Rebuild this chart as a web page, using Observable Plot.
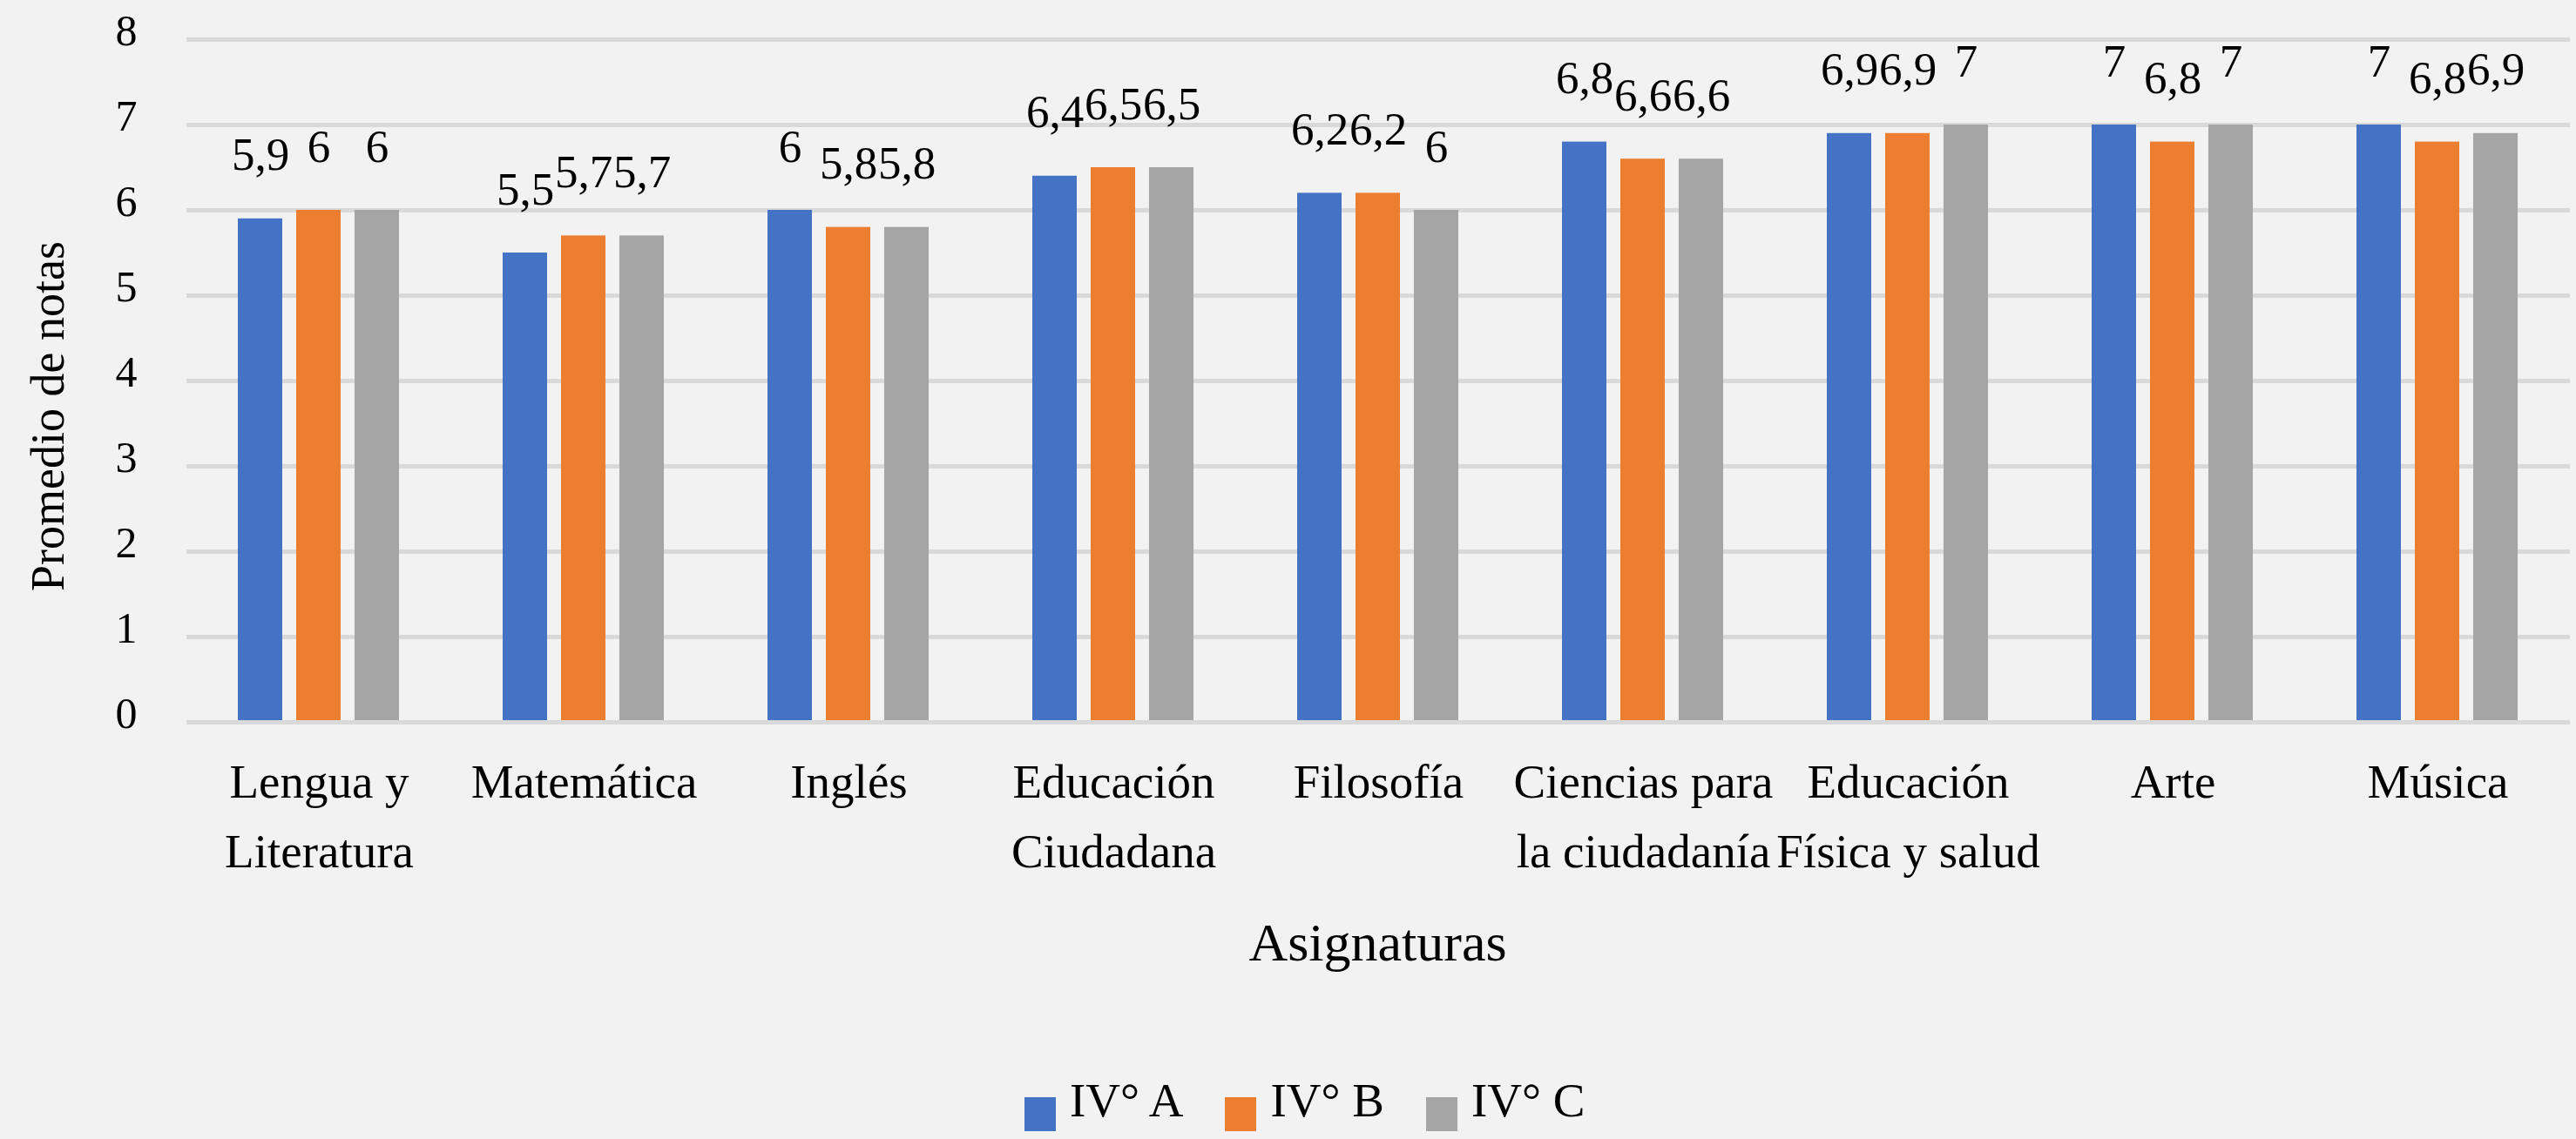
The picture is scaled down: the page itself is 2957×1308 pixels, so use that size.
<!DOCTYPE html>
<html><head><meta charset="utf-8">
<script src="https://cdn.jsdelivr.net/npm/d3@7"></script>
<script src="https://cdn.jsdelivr.net/npm/@observablehq/plot@0.6"></script>
<style>
html,body{margin:0;padding:0;background:#f2f2f2;}
#wrap{position:relative;width:2957px;height:1308px;background:#f2f2f2;font-family:"Liberation Serif",serif;overflow:hidden}
#wrap svg, #wrap svg text, #wrap svg tspan{font-family:"Liberation Serif",serif !important}
#legend{position:absolute;top:1236px;left:1176px;display:flex;align-items:baseline;font-size:55px;line-height:55px;color:#000;white-space:nowrap}
.item{display:flex;align-items:baseline;margin-right:48px}
.sw{display:inline-block;width:36px;height:39px;position:relative;top:17px;margin-right:16px}
</style></head><body><div id="wrap"></div>
<script>
const subjects = ["Lengua y Literatura","Matemática","Inglés","Educación Ciudadana","Filosofía","Ciencias para la ciudadanía","Educación Física y salud","Arte","Música"];
const subjectLabels = ["Lengua y\nLiteratura","Matemática","Inglés","Educación\nCiudadana","Filosofía","Ciencias para\nla ciudadanía","Educación\nFísica y salud","Arte","Música"];
const groups = ["IV° A","IV° B","IV° C"];
const colors = ["#4472C4","#ED7D31","#A5A5A5"];
const valuesA = [5.9,5.5,6,6.4,6.2,6.8,6.9,7,7];
const valuesB = [6,5.7,5.8,6.5,6.2,6.6,6.9,6.8,6.8];
const valuesC = [6,5.7,5.8,6.5,6,6.6,7,7,6.9];
const yTicks = [0,1,2,3,4,5,6,7,8];
const xTitle = "Asignaturas";
const yTitle = "Promedio de notas";

const series = [valuesA, valuesB, valuesC];
const rows = subjects.flatMap((s, i) => groups.map((g, j) => ({subject: s, group: g, value: series[j][i]})));
const fmt = v => String(v).replace(".", ",");
const serif = "Liberation Serif";

const chart = Plot.plot({
  width: 2957, height: 1150,
  marginLeft: 211, marginRight: 5, marginTop: 45, marginBottom: 321,
  style: {background: "#f2f2f2", fontFamily: serif, color: "#000", overflow: "visible"},
  fx: {domain: subjects, paddingInner: 0, paddingOuter: 0, label: null},
  x: {domain: groups, paddingInner: 0.235, paddingOuter: 0.857, axis: null},
  y: {domain: [0, 8]},
  color: {domain: groups, range: colors},
  marks: [
    Plot.gridY(yTicks, {stroke: "#d9d9d9", strokeOpacity: 1, strokeWidth: 5}),
    Plot.barY(rows, {fx: "subject", x: "group", y: "value", fill: "group"}),
    Plot.ruleY([0], {stroke: "#d9d9d9", strokeWidth: 5}),
    Plot.text(rows, {fx: "subject", x: "group", y: "value", text: d => fmt(d.value), lineAnchor: "bottom", dy: -56, fontSize: 53, fontFamily: serif, fill: "#000"}),
    Plot.axisY(yTicks, {tickSize: 0, tickPadding: 57, fontSize: 50, fontFamily: serif, fontVariant: "normal", dy: -10, tickFormat: d => fmt(d), label: null, fill: "#000"}),
    Plot.axisFx({anchor: "bottom", tickSize: 0, tickPadding: 30, fontSize: 55, fontFamily: serif, lineHeight: 1.45, tickFormat: d => subjectLabels[subjects.indexOf(d)], label: null, fill: "#000"})
  ]
});

const wrap = document.getElementById("wrap");
wrap.appendChild(chart);

// axis titles
const ys = chart.scale("y").range;
const fxs = chart.scale("fx").range;
const svg = d3.select(chart);
svg.append("text")
  .attr("transform", `translate(${(fxs[0] + fxs[1]) / 2},${ys[0] + 274})`)
  .attr("text-anchor", "middle").attr("font-size", 62).attr("fill", "#000")
  .text(xTitle);
svg.append("text")
  .attr("transform", `translate(73,${(ys[0] + ys[1]) / 2 + 41}) rotate(-90)`)
  .attr("text-anchor", "middle").attr("font-size", 54).attr("fill", "#000")
  .text(yTitle);
svg.selectAll("text, tspan").style("font-family", "'Liberation Serif', serif");

// legend
const legend = document.createElement("div");
legend.id = "legend";
groups.forEach((g, i) => {
  const item = document.createElement("div");
  item.className = "item";
  const sw = document.createElement("span");
  sw.className = "sw";
  sw.style.background = colors[i];
  const t = document.createElement("span");
  t.textContent = g;
  item.appendChild(sw); item.appendChild(t);
  legend.appendChild(item);
});
wrap.appendChild(legend);
</script></body></html>
